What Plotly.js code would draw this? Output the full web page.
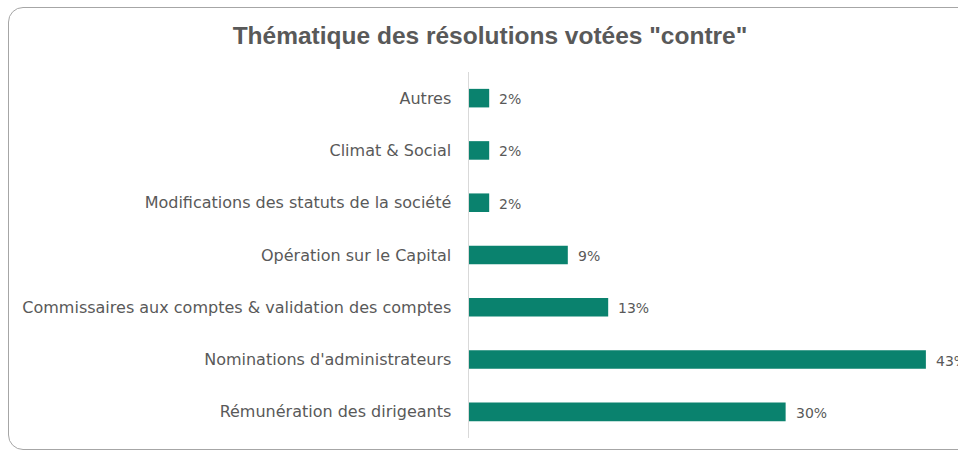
<!DOCTYPE html>
<html>
<head>
<meta charset="utf-8">
<script src="https://cdn.plot.ly/plotly-3.0.1.min.js"></script>
<style>
  html, body { margin: 0; padding: 0; width: 958px; height: 454px; overflow: hidden; background: #fff; }
  #frame { position: absolute; left: 8px; top: 7px; width: 1000px; height: 443px; border: 1.5px solid #a6a6a6; border-radius: 15px; box-sizing: border-box; }
  #chart { position: absolute; left: 0; top: 0; width: 1000px; height: 454px; }
</style>
</head>
<body>
<div id="frame"></div>
<div id="chart"></div>
<script>
// Categories from bottom to top
var categories = [
  "Rémunération des dirigeants",
  "Nominations d'administrateurs",
  "Commissaires aux comptes & validation des comptes",
  "Opération sur le Capital",
  "Modifications des statuts de la société",
  "Climat & Social",
  "Autres"
];
var values = [29.8, 43.0, 13.1, 9.3, 1.9, 1.9, 1.9];
var labels = ["30%", "43%", "13%", "9%", "2%", "2%", "2%"];

var textColor = "#595959";
var barColor = "#0a826e";

var annotations = categories.map(function (c, i) {
  return {
    x: values[i], y: c, xref: "x", yref: "y",
    text: labels[i], showarrow: false,
    xanchor: "left", yanchor: "middle", xshift: 8, yshift: -1,
    font: { family: "DejaVu Sans, sans-serif", size: 14, color: textColor }
  };
});

var data = [{
  type: "bar",
  orientation: "h",
  x: values,
  y: categories,
  marker: { color: barColor },
  hoverinfo: "none"
}];

var layout = {
  width: 1000,
  height: 454,
  margin: { l: 469, r: 21, t: 72, b: 16 },
  paper_bgcolor: "rgba(0,0,0,0)",
  plot_bgcolor: "rgba(0,0,0,0)",
  showlegend: false,
  bargap: 0.645,
  title: {
    text: "Thématique des résolutions votées \"contre\"",
    x: 0.49, xanchor: "center", xref: "container",
    y: 0.922, yanchor: "middle", yref: "container",
    font: { family: "Liberation Sans, Arial, sans-serif", size: 24.5, color: textColor, weight: "bold" }
  },
  xaxis: {
    range: [0, 48],
    showgrid: false, zeroline: false, showline: false,
    showticklabels: false, ticks: "", fixedrange: true
  },
  yaxis: {
    type: "category",
    categoryorder: "array", categoryarray: categories,
    range: [-0.5, 6.5],
    showgrid: false, zeroline: false,
    showline: true, linecolor: "#d9d9d9", linewidth: 1.5,
    ticks: "", ticklabelstandoff: 13,
    tickfont: { family: "DejaVu Sans, sans-serif", size: 16, color: textColor },
    fixedrange: true
  },
  annotations: annotations
};

Plotly.newPlot("chart", data, layout, { displayModeBar: false, staticPlot: true });
</script>
</body>
</html>
